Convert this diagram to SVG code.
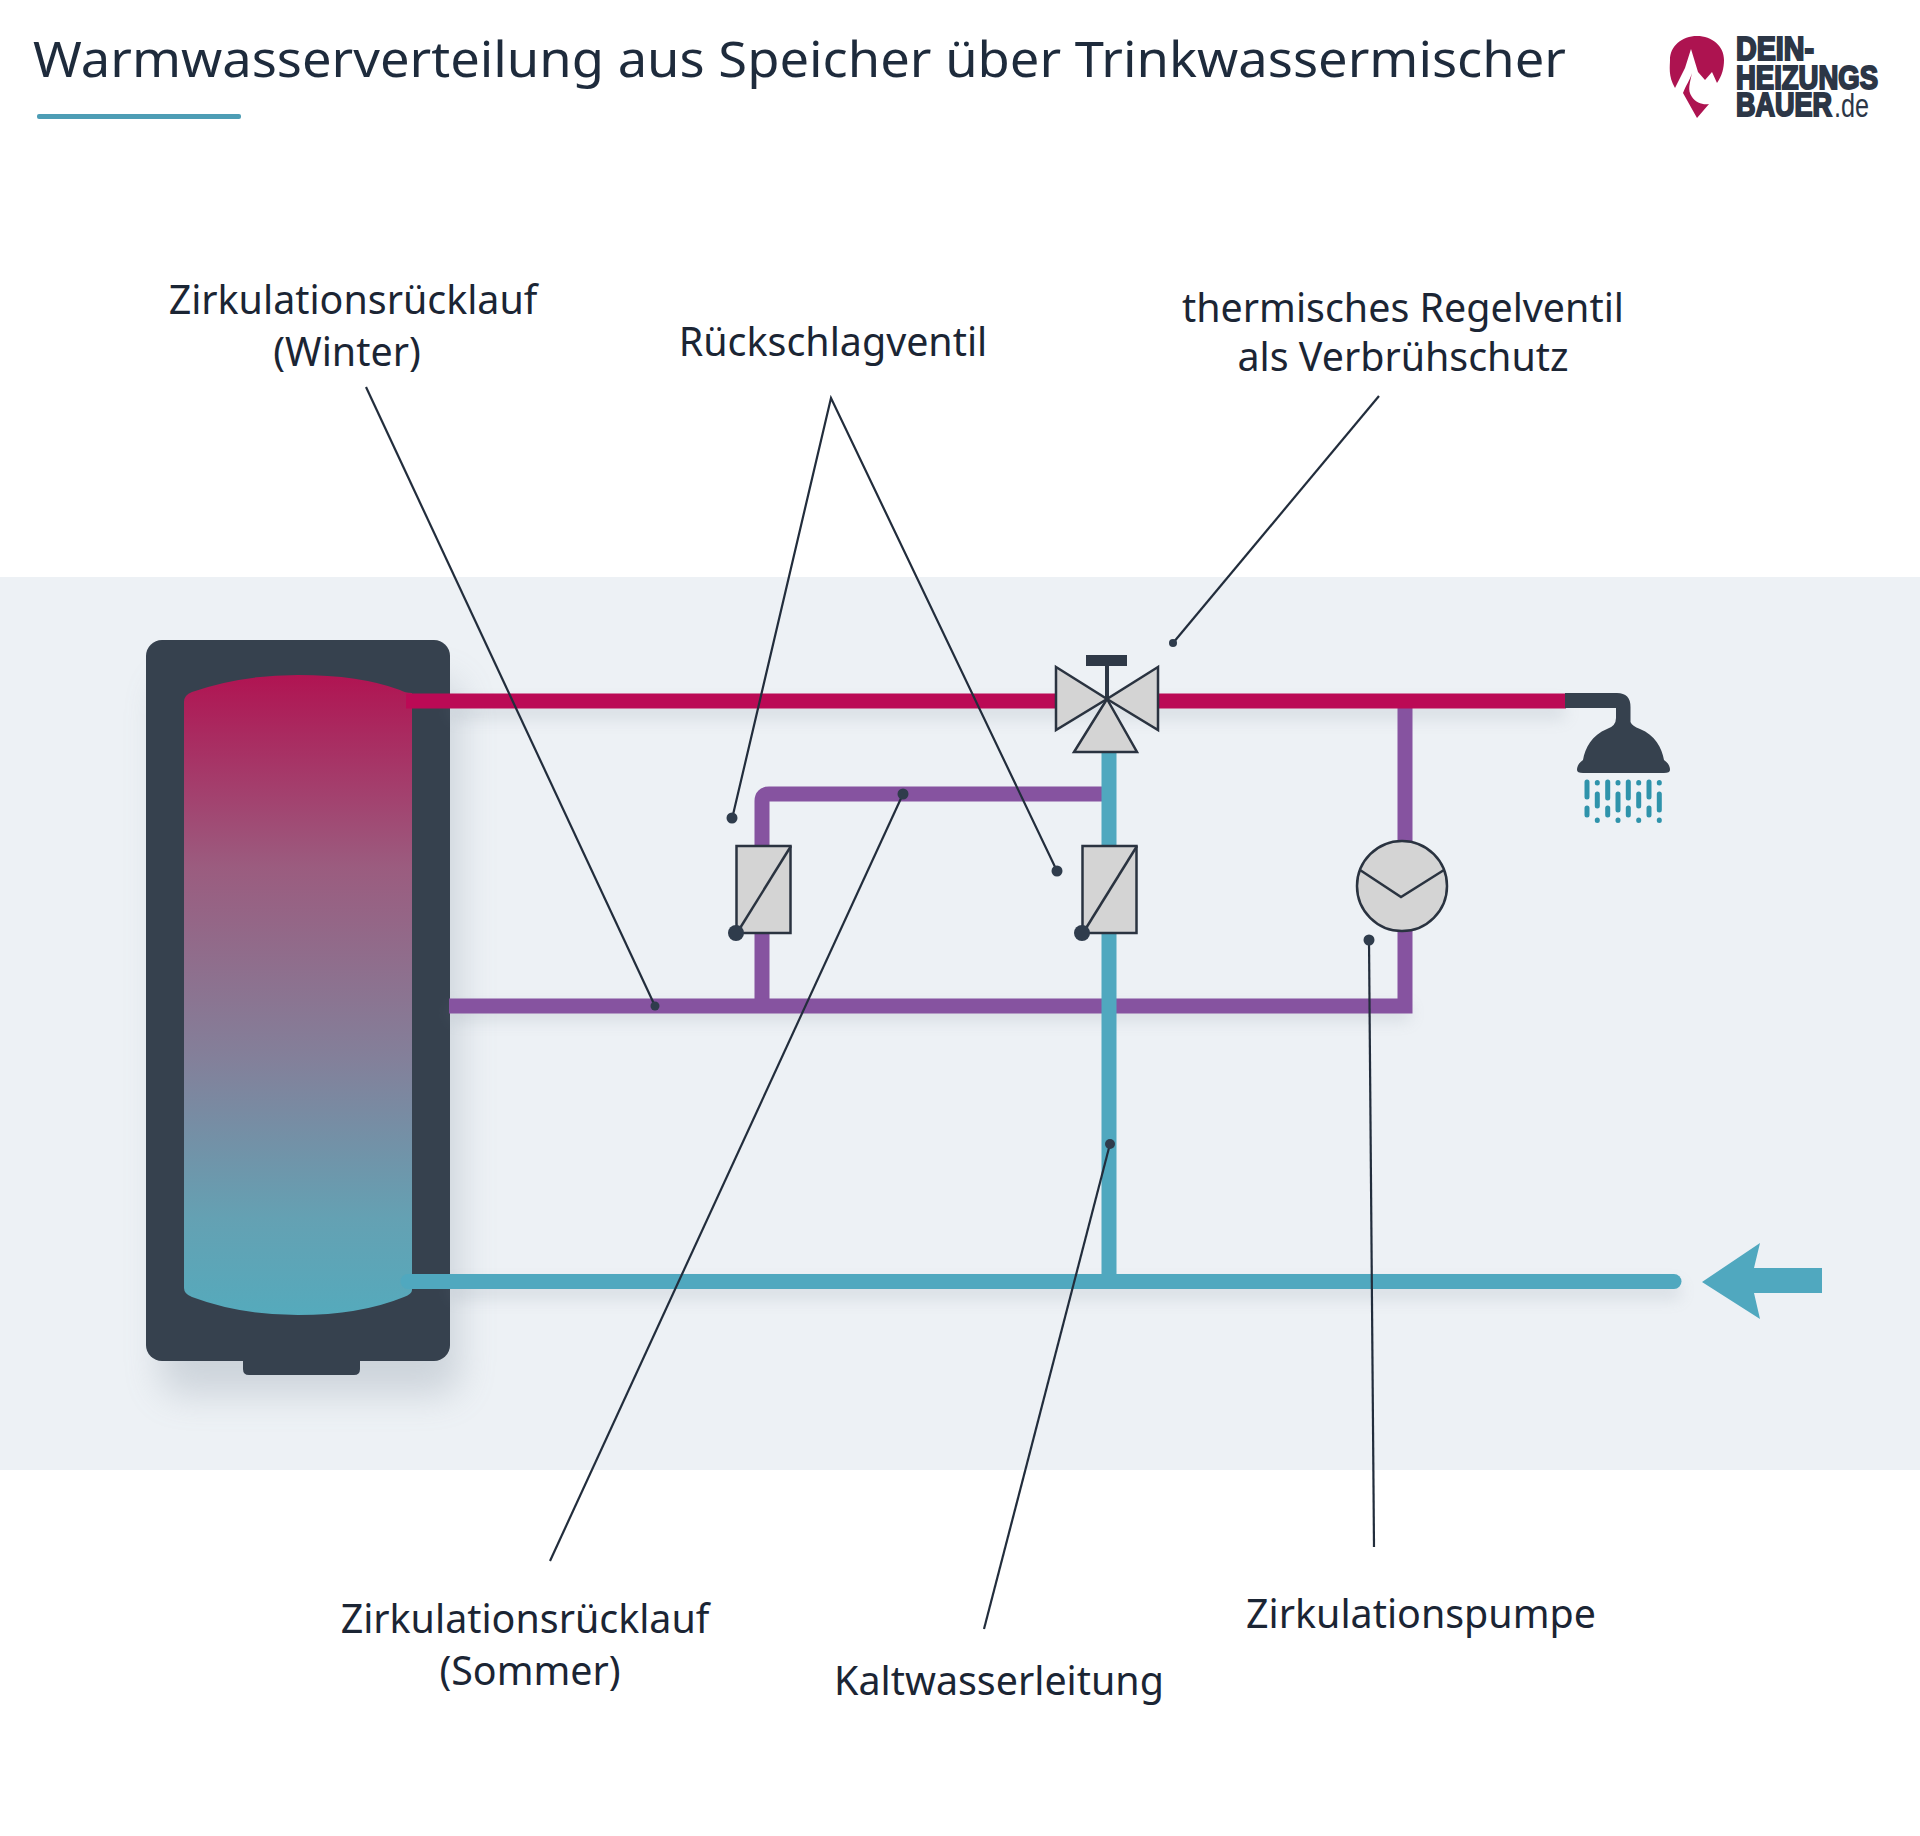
<svg xmlns="http://www.w3.org/2000/svg" width="1920" height="1836" viewBox="0 0 1920 1836">
<style>
.lbl{font-family:"Noto Sans","Open Sans",sans-serif;font-size:39.400px;fill:#1b2534;text-anchor:middle}
.ttl{font-family:"Noto Sans","Open Sans",sans-serif;font-size:50px;fill:#1e2b3c}
.lead{fill:none;stroke:#222d3c;stroke-width:2.200}
.dot{fill:#2f3c4c}
.pipe{fill:none;stroke-width:15}
.hot{stroke:#bb0a55}
.cold{stroke:#50a8bf}
.circ{stroke:#8653a0}
.part{fill:#d4d4d4;stroke:#2a3340;stroke-width:2.500;stroke-linejoin:miter}
.drop{fill:none;stroke:#2f93ab;stroke-width:5;stroke-linecap:round}
.logo{font-family:"Liberation Sans",Arial,sans-serif;font-weight:700;font-size:33px;fill:#2c3646;stroke:#2c3646;stroke-width:2}
</style>
<defs>
<linearGradient id="tankFill" x1="0" y1="0" x2="0" y2="1">
<stop offset="0" stop-color="#b01452"/>
<stop offset="0.3" stop-color="#9b5c7f"/>
<stop offset="0.6" stop-color="#83809a"/>
<stop offset="0.85" stop-color="#64a1b3"/>
<stop offset="1" stop-color="#55aabc"/>
</linearGradient>
<filter id="soft" x="-30%" y="-30%" width="160%" height="160%"><feGaussianBlur stdDeviation="18"/></filter>
<filter id="softer" x="-10%" y="-300%" width="120%" height="700%"><feGaussianBlur stdDeviation="8"/></filter>
</defs>
<rect width="1920" height="1836" fill="#ffffff"/>
<rect id="band" x="0" y="577" width="1920" height="893" fill="#edf1f5"/>

<g id="title">
<text class="ttl" x="33" y="77" textLength="1533" lengthAdjust="spacingAndGlyphs">Warmwasserverteilung aus Speicher über Trinkwassermischer</text>
<rect x="37" y="114" width="204" height="5" rx="2" fill="#4d9db5"/>
</g>

<g id="logo">
<path d="M1675 88C1668 76 1670 66 1670 60C1670 46 1682 36 1697 36C1712 36 1724 46 1724 60C1724 68 1722 76 1717 83L1712 72L1705 80L1698 72L1691 49L1685 68Z" fill="#ad1350"/>
<path d="M1683 93C1686 85 1690 80 1692 73C1690 83 1687 90 1692 97C1696 103 1703 105 1709 104L1697 118Z" fill="#ad1350"/>
<text class="logo" x="1736" y="60" textLength="78" lengthAdjust="spacingAndGlyphs">DEIN-</text>
<text class="logo" x="1736" y="89" textLength="142" lengthAdjust="spacingAndGlyphs">HEIZUNGS</text>
<text class="logo" x="1736" y="116" textLength="96" lengthAdjust="spacingAndGlyphs">BAUER</text>
<text x="1834" y="117" font-family="Liberation Sans,Arial,sans-serif" font-size="33" fill="#2c3646" textLength="35" lengthAdjust="spacingAndGlyphs">.de</text>
</g>

<g id="tank">
<rect x="160" y="680" width="300" height="715" rx="20" fill="#7c8a99" opacity="0.28" filter="url(#soft)"/>
<rect x="146" y="640" width="304" height="721" rx="16" fill="#36414e"/>
<path d="M243 1358H360V1369Q360 1375 354 1375H249Q243 1375 243 1369Z" fill="#36414e"/>
<path d="M184 702Q184 695 192 692Q240 675 298 675Q360 675 400 690Q405 693 412 693V1290Q412 1294 404 1297Q360 1315 298 1315Q240 1315 192 1297Q184 1294 184 1288Z" fill="url(#tankFill)"/>
</g>

<g id="pipes">
<g opacity="0.2" filter="url(#softer)">
<path class="pipe" stroke="#7c8a99" d="M450 1013H1410"/>
<path class="pipe" stroke="#7c8a99" d="M450 1291H1680"/>
<path class="pipe" stroke="#7c8a99" d="M450 711H1565"/>
</g>
<path id="pipe-circ-top" class="pipe circ" d="M1103 794H769Q762 794 762 801V1006"/>
<path id="pipe-circ-main" class="pipe circ" d="M449 1006H1405V705"/>
<path id="pipe-hot-left" class="pipe hot" d="M406 701H1060"/>
<path id="pipe-hot-right" class="pipe hot" d="M1155 701H1566"/>
<path id="pipe-cold-riser" class="pipe cold" d="M1109 750V1281"/>
<path id="pipe-cold-main" class="pipe cold" stroke-linecap="round" d="M408 1281.500H1674"/>
</g>

<g id="valve-mixer">
<path d="M1107 699V660" fill="none" stroke="#2d3745" stroke-width="4"/>
<rect x="1086" y="655" width="41" height="11" fill="#2f3947"/>
<path class="part" d="M1056 667L1107 699L1056 730Z"/>
<path class="part" d="M1158 667L1107 699L1158 730Z"/>
<path class="part" d="M1107 699L1137 752H1074Z"/>
</g>

<g id="check-valve-left">
<rect class="part" x="736.500" y="846" width="54" height="87"/>
<path d="M737 933L791 846" fill="none" stroke="#2a3340" stroke-width="2.500"/>
<circle class="dot" cx="736" cy="933" r="8"/>
</g>
<g id="check-valve-right">
<rect class="part" x="1082.500" y="846" width="54" height="87"/>
<path d="M1083 933L1137 846" fill="none" stroke="#2a3340" stroke-width="2.500"/>
<circle class="dot" cx="1082" cy="933" r="8"/>
</g>

<g id="pump">
<circle class="part" cx="1402" cy="886" r="45"/>
<path d="M1360 870L1401 897L1444 870" fill="none" stroke="#2a3340" stroke-width="2.500"/>
</g>

<g id="shower">
<path d="M1565 693H1617Q1630.500 693 1630.500 707V722Q1632 726 1640 729C1655 735 1662 748 1664 760Q1670 764 1670 770Q1670 773 1664 773H1583Q1577 773 1577 770Q1577 764 1583 760C1585 748 1592 735 1607 729Q1616 726 1616 718V708H1565Z" fill="#36414e"/>
<path class="drop" d="M1587 782V797M1587 808V815M1607.700 782V798M1607.700 808V815M1628.300 782V798M1628.300 808V815M1649 782V797M1649 808V815M1597.300 794V806M1618 794V810M1638.700 794V806M1659.300 794V810"/>
<path class="drop" d="M1597.300 782.500V783M1597.300 820V820.500M1618 782.500V783M1618 820V820.500M1638.700 782.500V783M1638.700 820V820.500M1659.300 782.500V783M1659.300 820V820.500"/>
</g>

<g id="cold-arrow">
<path d="M1702 1282L1760 1243L1754 1268H1822V1293H1754L1760 1319Z" fill="#50a8bf"/>
</g>

<g id="connectors">
<path class="lead" d="M366 387L655 1006"/>
<circle class="dot" cx="655" cy="1006" r="4.500"/>
<path class="lead" d="M732 819L831 398L1057 871"/>
<circle class="dot" cx="732" cy="818" r="5.500"/>
<circle class="dot" cx="1057" cy="871" r="5.500"/>
<path class="lead" d="M1379 396L1173 643"/>
<circle class="dot" cx="1173" cy="643" r="4"/>
<path class="lead" d="M550 1561L903 794"/>
<circle class="dot" cx="903" cy="794" r="5.500"/>
<path class="lead" d="M984 1629L1110 1144"/>
<circle class="dot" cx="1110" cy="1144" r="5"/>
<path class="lead" d="M1374 1547L1369 940"/>
<circle class="dot" cx="1369" cy="940" r="5.500"/>
</g>

<g id="labels">
<text class="lbl" x="353" y="314">Zirkulationsrücklauf</text>
<text class="lbl" x="347" y="366">(Winter)</text>
<text class="lbl" x="833" y="356">Rückschlagventil</text>
<text class="lbl" x="1403" y="322">thermisches Regelventil</text>
<text class="lbl" x="1403" y="371">als Verbrühschutz</text>
<text class="lbl" x="525" y="1633">Zirkulationsrücklauf</text>
<text class="lbl" x="530" y="1685">(Sommer)</text>
<text class="lbl" x="999" y="1695">Kaltwasserleitung</text>
<text class="lbl" x="1421" y="1628">Zirkulationspumpe</text>
</g>
</svg>
